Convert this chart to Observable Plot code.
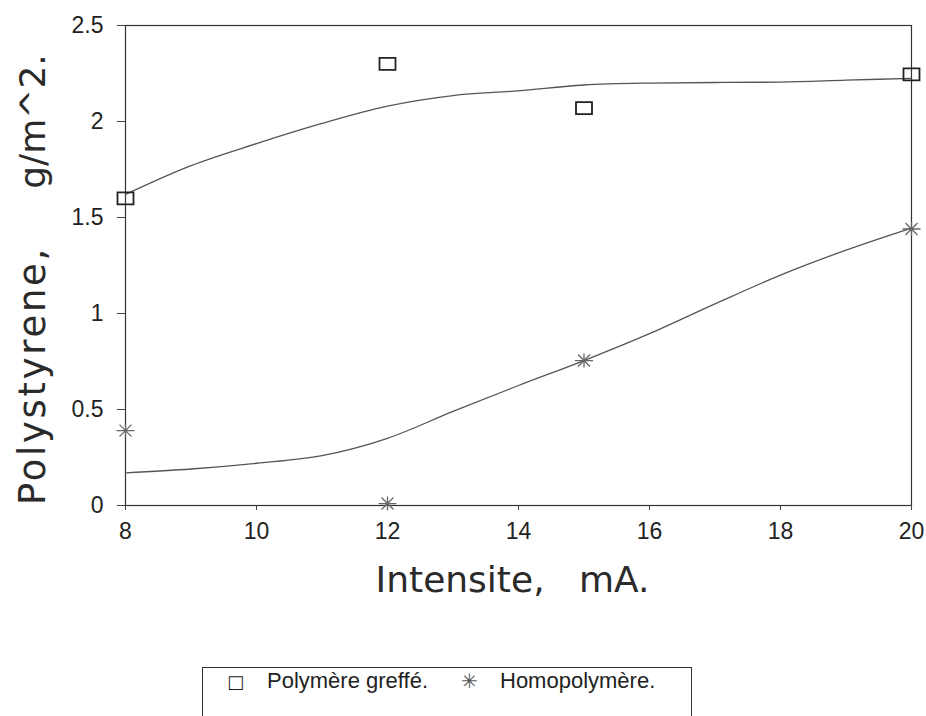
<!DOCTYPE html>
<html>
<head>
<meta charset="utf-8">
<script src="https://cdn.jsdelivr.net/npm/d3@7"></script>
<script src="https://cdn.jsdelivr.net/npm/@observablehq/plot@0.6"></script>
<style>
  html, body { margin: 0; padding: 0; background: #fff; }
  #legend {
    position: relative;
    margin-left: 202px; margin-top: 27px;
    width: 490px; height: 60px;
    border: 1.3px solid #333; border-bottom: none;
    font-family: "Liberation Sans", sans-serif; font-size: 22px; color: #222;
    box-sizing: border-box;
  }
  #legend span { position: absolute; top: 0px; white-space: pre; }
</style>
</head>
<body>
<div id="chart"></div>
<script>
// Measured points
const intensite = [8, 12, 15, 20];
const greffe = [1.60, 2.30, 2.07, 2.245];
const homo = [0.39, 0.01, 0.755, 1.44];
// Fitted curves
const fitX = [8, 9, 10, 11, 12, 13, 14, 15, 16, 17, 18, 19, 20];
const fitGreffe = [1.62, 1.77, 1.885, 1.99, 2.08, 2.135, 2.16, 2.19, 2.20, 2.203, 2.205, 2.215, 2.225];
const fitHomo = [0.17, 0.19, 0.22, 0.26, 0.35, 0.49, 0.625, 0.755, 0.895, 1.05, 1.20, 1.33, 1.445];
// Ticks and labels
const xTicks = [8, 10, 12, 14, 16, 18, 20];
const yTicks = [0, 0.5, 1, 1.5, 2, 2.5];
const xLabel = "Intensite,\u00a0\u00a0\u00a0mA.";
const yLabelParts = ["Polystyrene,", "g/m^2."];
const seriesNames = ["Polymère greffé.", "Homopolymère."];

const ptsG = intensite.map((x, i) => ({x, y: greffe[i]}));
const ptsH = intensite.map((x, i) => ({x, y: homo[i]}));
const curveG = fitX.map((x, i) => ({x, y: fitGreffe[i]}));
const curveH = fitX.map((x, i) => ({x, y: fitHomo[i]}));

const rectSymbol = {
  draw(ctx, size) {
    const w = 8, h = 6;
    ctx.moveTo(-w, -h); ctx.lineTo(w, -h); ctx.lineTo(w, h); ctx.lineTo(-w, h); ctx.closePath();
  }
};
const starSymbol = {
  draw(ctx, size) {
    const a = 9, b = 7, d = 6;
    ctx.moveTo(-a, 0); ctx.lineTo(a, 0);
    ctx.moveTo(0, -b); ctx.lineTo(0, b);
    ctx.moveTo(-d, -d); ctx.lineTo(d, d);
    ctx.moveTo(-d, d); ctx.lineTo(d, -d);
  }
};

const labelStyle = {fontFamily: "DejaVu Sans", fill: "#2a2a2a", textAnchor: "middle", lineAnchor: "middle", text: d => d};

const chart = Plot.plot({
  width: 926,
  height: 640,
  marginLeft: 125,
  marginRight: 15,
  marginTop: 25,
  marginBottom: 135,
  style: {fontFamily: "Liberation Sans, sans-serif", background: "#fff", color: "#222"},
  x: {domain: [8, 20]},
  y: {domain: [0, 2.5]},
  marks: [
    Plot.frame({stroke: "#333", strokeWidth: 1.2}),
    Plot.axisX({ticks: xTicks, tickFormat: d => String(d), tickSize: 5, tickPadding: 12, fontSize: 23, label: null, stroke: "#444"}),
    Plot.axisY({ticks: yTicks, tickFormat: d => String(d), tickSize: 8, tickPadding: 14, fontSize: 23, label: null, stroke: "#444"}),
    Plot.line(curveG, {x: "x", y: "y", curve: "monotone-x", stroke: "#555", strokeWidth: 1.3}),
    Plot.line(curveH, {x: "x", y: "y", curve: "monotone-x", stroke: "#555", strokeWidth: 1.3}),
    Plot.dot(ptsG, {x: "x", y: "y", symbol: rectSymbol, r: 6, stroke: "#222", strokeWidth: 1.8, fill: "none"}),
    Plot.dot(ptsH, {x: "x", y: "y", symbol: starSymbol, r: 6, stroke: "#666", strokeWidth: 1.3, fill: "none"}),
    Plot.text([xLabel], {...labelStyle, frameAnchor: "bottom", dx: -6, dy: 75, fontSize: 36}),
    Plot.text([yLabelParts[0]], {...labelStyle, frameAnchor: "left", dx: -92, dy: 110, rotate: -90, fontSize: 37}),
    Plot.text([yLabelParts[1]], {...labelStyle, frameAnchor: "left", dx: -92, dy: -144, rotate: -90, fontSize: 36})
  ]
});
chart.querySelectorAll("text").forEach(t => {
  if (t.textContent === yLabelParts[0]) t.style.letterSpacing = "2.7px";
});
document.getElementById("chart").appendChild(chart);

const legend = document.createElement("div");
legend.id = "legend";
legend.innerHTML =
  `<span style="left:24px;font-family:'DejaVu Sans';font-size:18px;top:3px">□</span>` +
  `<span style="left:64px">${seriesNames[0]}</span>` +
  `<span style="left:258px;font-family:'DejaVu Sans';font-size:20px;top:1px;color:#555">✳</span>` +
  `<span style="left:297px">${seriesNames[1]}</span>`;
document.body.appendChild(legend);
</script>
</body>
</html>
